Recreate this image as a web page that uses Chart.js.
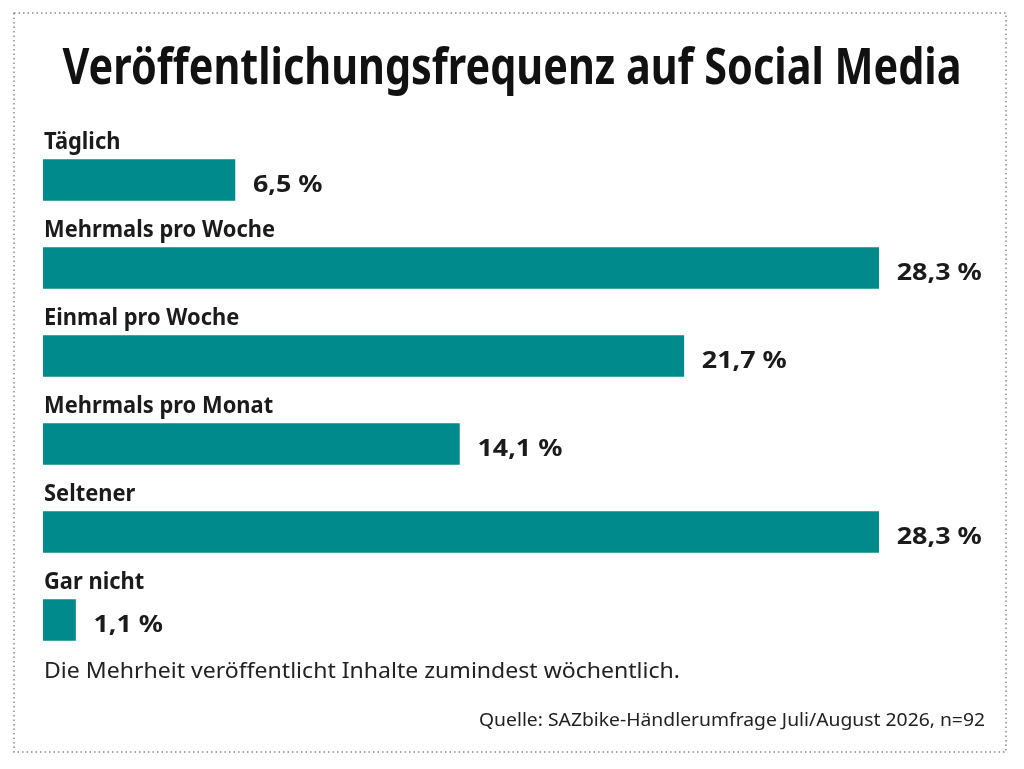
<!DOCTYPE html>
<html lang="de">
<head>
<meta charset="utf-8">
<title>Veröffentlichungsfrequenz auf Social Media</title>
<script src="https://cdn.jsdelivr.net/npm/chart.js@4/dist/chart.umd.min.js"></script>
<style>
  html, body { margin: 0; padding: 0; background: #fff; }
  #wrap { position: relative; width: 1024px; height: 769px; }
</style>
</head>
<body>
<div id="wrap"><canvas id="myChart"></canvas></div>
<script>
const categories = ["Täglich", "Mehrmals pro Woche", "Einmal pro Woche", "Mehrmals pro Monat", "Seltener", "Gar nicht"];
const shares = [6.5, 28.3, 21.7, 14.1, 28.3, 1.1];

const titleText = "Veröffentlichungsfrequenz auf Social Media";
const noteText = "Die Mehrheit veröffentlicht Inhalte zumindest wöchentlich.";
const sourceText = "Quelle: SAZbike-Händlerumfrage Juli/August 2026, n=92";

const ink = "#1b1b1b";
const teal = "#008a8c";

function fmt(v) {
    return v.toFixed(1).replace(".", ",") + " %";
}

// draw text squeezed horizontally so a reference string gets the wanted width
function squeezeFor(ctx, font, ref, width) {
    ctx.font = font;
    return width / ctx.measureText(ref).width;
}

function drawText(ctx, text, x, y, font, sx, align) {
    ctx.save();
    ctx.font = font;
    ctx.textBaseline = "alphabetic";
    ctx.textAlign = "left";
    const w = ctx.measureText(text).width * sx;
    let left = x;
    if (align === "center") left = x - w / 2;
    if (align === "right") left = x - w;
    ctx.translate(left, y);
    ctx.scale(sx, 1);
    ctx.fillText(text, 0, 0);
    ctx.restore();
}

const decor = {
    id: "decor",
    afterDatasetsDraw(chart) {
        const ctx = chart.ctx;
        const meta = chart.getDatasetMeta(0);
        const labelFont = "bold 24px 'Noto Sans'";
        const valueFont = "bold 24px 'Noto Sans'";
        const labelSx = squeezeFor(ctx, labelFont, "Mehrmals pro Woche", 231);
        const valueSx = squeezeFor(ctx, valueFont, "28,3 %", 85);
        ctx.fillStyle = ink;
        meta.data.forEach((bar, i) => {
            const top = bar.y - bar.height / 2;
            drawText(ctx, categories[i], chart.chartArea.left + 1, top - 11, labelFont, labelSx, "left");
            drawText(ctx, fmt(shares[i]), bar.x + 18, bar.y + 12, valueFont, valueSx, "left");
        });
    },
    afterDraw(chart) {
        const ctx = chart.ctx;
        const titleFont = "bold 50px 'Noto Sans'";
        const noteFont = "21px 'Noto Sans'";
        const sourceFont = "18px 'Noto Sans'";
        ctx.fillStyle = "#111";
        drawText(ctx, titleText, 512, 84, titleFont, squeezeFor(ctx, titleFont, titleText, 899), "center");
        ctx.fillStyle = "#222";
        drawText(ctx, noteText, 44, 678, noteFont, squeezeFor(ctx, noteFont, noteText, 636), "left");
        drawText(ctx, sourceText, 985, 726, sourceFont, squeezeFor(ctx, sourceFont, sourceText, 506), "right");

        // dotted frame
        ctx.save();
        ctx.strokeStyle = "#8a8a8a";
        ctx.lineWidth = 1.5;
        ctx.setLineDash([1.5, 3]);
        ctx.strokeRect(14, 13, 992, 739);
        ctx.restore();
    }
};

const ctx = document.getElementById("myChart").getContext("2d");
const myChart = new Chart(ctx, {
    type: "bar",
    data: {
        labels: categories,
        datasets: [{
            data: shares,
            backgroundColor: teal,
            borderWidth: 0,
            barThickness: 41
        }]
    },
    options: {
        indexAxis: "y",
        responsive: true,
        maintainAspectRatio: false,
        animation: false,
        layout: {
            padding: { left: 43, right: 36, top: 136, bottom: 105 }
        },
        scales: {
            x: { display: false, min: 0, max: 32 },
            y: { display: false }
        },
        plugins: {
            legend: { display: false },
            tooltip: { enabled: false }
        }
    },
    plugins: [decor]
});
</script>
</body>
</html>
